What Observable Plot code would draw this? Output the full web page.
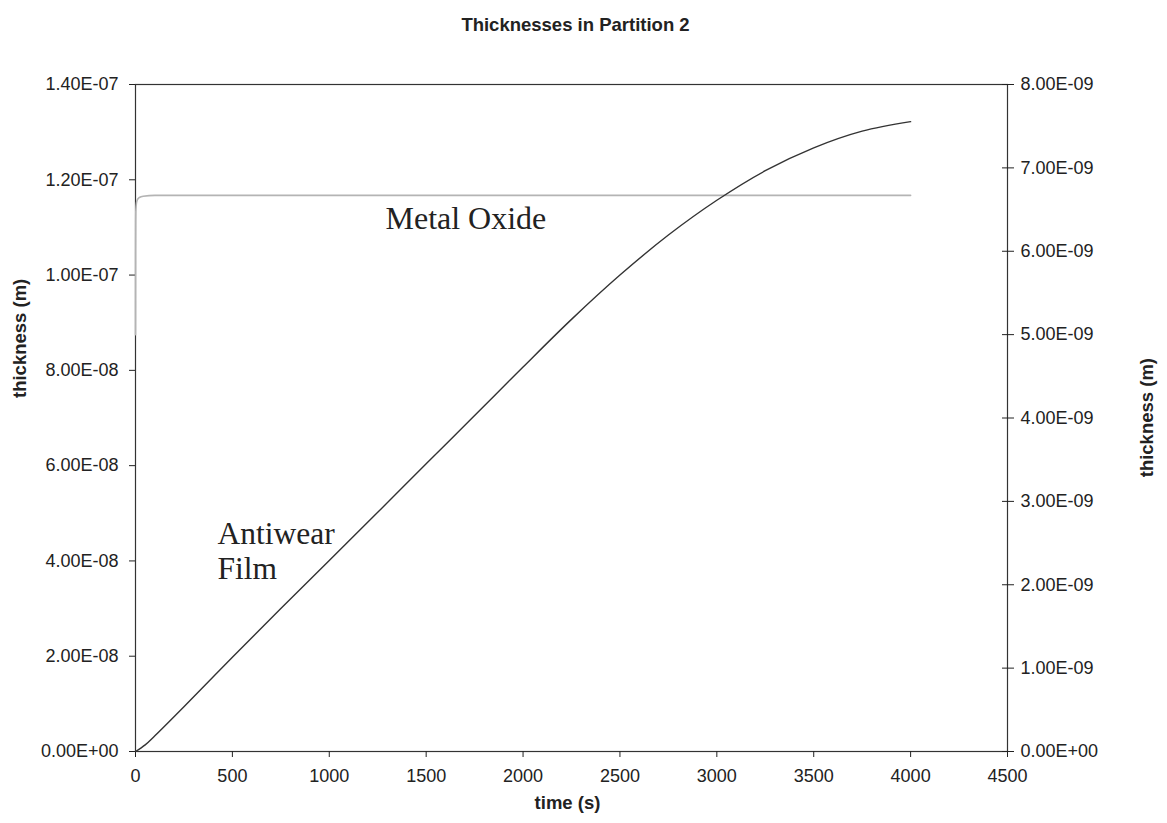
<!DOCTYPE html>
<html>
<head>
<meta charset="utf-8">
<script src="https://cdn.jsdelivr.net/npm/d3@7"></script>
<script src="https://cdn.jsdelivr.net/npm/@observablehq/plot@0.6"></script>
<style>
  html, body { margin: 0; padding: 0; background: #fff; }
</style>
</head>
<body>
<div id="chart"></div>
<script>
// Antiwear film thickness (m), left axis
const filmTime = [0, 50, 100, 250, 500, 750, 1000, 1250, 1500, 1750, 2000, 2250, 2500, 2750, 3000, 3250, 3500, 3750, 4000];
const filmThickness = [0, 0.14e-8, 0.33e-8, 0.94e-8, 1.98e-8, 3.00e-8, 4.01e-8, 5.02e-8, 6.04e-8, 7.05e-8, 8.07e-8, 9.07e-8, 10.00e-8, 10.84e-8, 11.57e-8, 12.19e-8, 12.67e-8, 13.02e-8, 13.22e-8];

// Metal oxide thickness (m), right axis
const oxideTime = [0, 0.5, 1, 2, 5, 10, 20, 40, 100, 500, 1000, 2000, 3000, 4000];
const oxideThickness = [5.00e-9, 6.00e-9, 6.35e-9, 6.50e-9, 6.58e-9, 6.62e-9, 6.645e-9, 6.66e-9, 6.67e-9, 6.67e-9, 6.67e-9, 6.67e-9, 6.67e-9, 6.67e-9];

const xTicks = [0, 500, 1000, 1500, 2000, 2500, 3000, 3500, 4000, 4500];
const leftTicks = [0, 2e-8, 4e-8, 6e-8, 8e-8, 10e-8, 12e-8, 14e-8];
const rightTicks = [0, 1e-9, 2e-9, 3e-9, 4e-9, 5e-9, 6e-9, 7e-9, 8e-9];

const leftMax = 1.4e-7;
const rightMax = 8e-9;
const k = leftMax / rightMax; // right-axis value -> left-axis scale

// Spreadsheet-style scientific notation, e.g. 1.40E-07
function sci(d) {
  if (Math.abs(d) < 1e-20) return "0.00E+00";
  const [m, e] = d.toExponential(2).split("e");
  const ex = +e;
  return m + "E" + (ex < 0 ? "-" : "+") + String(Math.abs(ex)).padStart(2, "0");
}

const film = filmTime.map((t, i) => ({t, v: filmThickness[i]}));
const oxide = oxideTime.map((t, i) => ({t, v: oxideThickness[i] * k}));

const serif = "'Liberation Serif', 'Times New Roman', serif";

const chart = Plot.plot({
  width: 1167,
  height: 823,
  marginLeft: 135,
  marginRight: 160,
  marginTop: 84,
  marginBottom: 72,
  style: {fontFamily: "'Liberation Sans', Arial, sans-serif", fontSize: "18px", color: "#222", background: "#fff"},
  x: {domain: [0, 4500]},
  y: {domain: [0, leftMax]},
  marks: [
    Plot.frame({stroke: "#333", strokeWidth: 1.2}),
    Plot.axisX(xTicks, {anchor: "bottom", tickSize: 6, tickPadding: 12, tickFormat: d => String(d), label: null}),
    Plot.axisY(leftTicks, {anchor: "left", tickSize: 6, tickPadding: 11, tickFormat: sci, label: null}),
    Plot.axisY(rightTicks.map(d => d * k), {anchor: "right", tickSize: 12, dx: -6, tickFormat: () => "", label: null}),
    Plot.axisY(rightTicks.map(d => d * k), {anchor: "right", tickSize: 0, tickPadding: 13, tickFormat: d => sci(d / k), label: null}),
    Plot.line(oxide, {x: "t", y: "v", stroke: "#b4b4b4", strokeWidth: 1.6, curve: "monotone-x"}),
    Plot.line(film, {x: "t", y: "v", stroke: "#333", strokeWidth: 1.4, curve: "catmull-rom"}),
    Plot.text(["Metal Oxide"], {x: 1290, y: 1.119e-7, textAnchor: "start", fontFamily: serif, fontSize: 32, fill: "#222"}),
    Plot.text(["Antiwear\nFilm"], {x: 423, y: 4.23e-8, textAnchor: "start", lineHeight: 1.14, fontFamily: serif, fontSize: 31.5, fill: "#222"}),
    Plot.text(["Thicknesses in Partition 2"], {frameAnchor: "top", dx: 4, dy: -67, fontWeight: "bold", fontSize: 18.5, fill: "#222"}),
    Plot.text(["time (s)"], {frameAnchor: "bottom", dx: -4, dy: 57, fontWeight: "bold", fontSize: 18.5, fill: "#222"}),
    Plot.text(["thickness (m)"], {frameAnchor: "left", rotate: -90, dx: -115, dy: -20, fontWeight: "bold", fontSize: 18.5, fill: "#222"}),
    Plot.text(["thickness (m)"], {frameAnchor: "right", rotate: -90, dx: 140, dy: -60, fontWeight: "bold", fontSize: 18.5, fill: "#222"})
  ]
});
document.getElementById("chart").appendChild(chart);
</script>
</body>
</html>
